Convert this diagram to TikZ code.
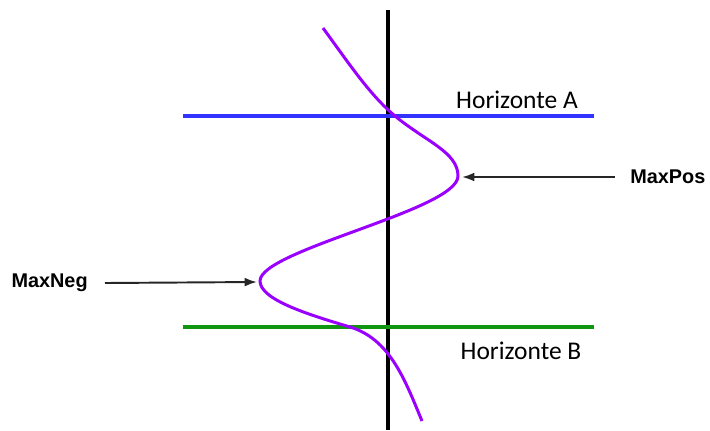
\documentclass[tikz,border=0pt]{standalone}
\usepackage{fontspec}
\setmainfont{Carlito}
\newfontfamily\arialfont{Liberation Sans}
\usetikzlibrary{arrows.meta}
\definecolor{horA}{RGB}{51,51,255}
\definecolor{horB}{RGB}{17,150,17}
\definecolor{wavelet}{RGB}{153,0,255}
\begin{document}
\begin{tikzpicture}[x=0.02cm, y=-0.02cm,
  horizon/.style={line width=2.3pt},
  hlabel/.style={font=\fontsize{14.5}{16}\selectfont, inner sep=0pt},
  maxlabel/.style={font=\arialfont\bfseries\fontsize{11.3}{13}\selectfont, inner sep=0pt},
  pointer/.style={-{Latex[length=7pt,width=5pt]}, line width=1.1pt, black!85}]
\useasboundingbox (0,0) rectangle (710,430);
% axis and horizons
\coordinate (axtop) at (388,10);
\coordinate (axbot) at (388,430);
\draw[line width=1.9pt] (axtop) -- (axbot);
\draw[horizon,horA] (183,116) -- (594,116);
\draw[horizon,horB] (183,327) -- (594,327);
\node[hlabel] (hA) at (517,100) {Horizonte A};
\node[hlabel] (hB) at (521,351) {Horizonte B};
% wavelet
\coordinate (pospeak) at (458,176);
\coordinate (negpeak) at (260,281);
\draw[wavelet, line width=1.7pt] (323,28) .. controls (350,65) and (370,95) .. (395,116)
  .. controls (425,141) and (458,152) .. (pospeak)
  .. controls (458,210) and (260,250) .. (negpeak)
  .. controls (260,300) and (310,315) .. (350,327)
  .. controls (390,339) and (405,380) .. (422,421);
% labels
\node[maxlabel, anchor=west] (maxpos) at (630,177) {MaxPos};
\node[maxlabel, anchor=east] (maxneg) at (88,283) {MaxNeg};
\coordinate (posend) at (462,177);
\coordinate (negend) at (257,282);
\draw[pointer] ([xshift=-0.3cm]maxpos.west) -- (posend);
\draw[pointer] ([xshift=0.34cm]maxneg.east) -- (negend);
\end{tikzpicture}
\end{document}
